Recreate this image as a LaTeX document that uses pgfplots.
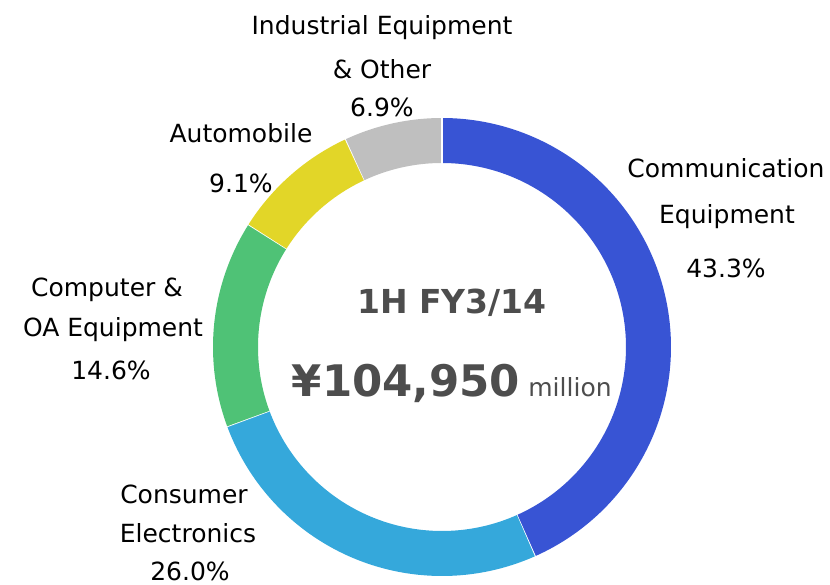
\documentclass[border=0pt]{standalone}
\usepackage{fontspec}
\setmainfont{DejaVu Sans}
\usepackage{pgfplots}
\usepackage{pgfplotstable}
\pgfplotsset{compat=1.18}

\definecolor{commblue}{HTML}{3854D4}
\definecolor{consblue}{HTML}{35A8DB}
\definecolor{compgreen}{HTML}{4FC276}
\definecolor{autoyellow}{HTML}{E2D628}
\definecolor{indgray}{HTML}{BFBFBF}
\definecolor{centertext}{HTML}{4D4D4D}

% share of sales, clockwise from 12 o'clock
\pgfplotstableread{
share color
43.3  commblue
26.0  consblue
14.6  compgreen
9.1   autoyellow
6.9   indgray
}\sharetable

\newcommand{\lbl}{\fontsize{25}{25}\selectfont}

\begin{document}
\begin{tikzpicture}
\begin{axis}[
  x=1pt, y=1pt,
  xmin=0, xmax=830, ymin=0, ymax=585,
  hide axis, clip=false,
]
\path (axis cs:0,0) rectangle (axis cs:830,585);

% total of the shares
\def\total{0}
\pgfplotsforeachungrouped \i in {0,...,4}{%
  \pgfplotstablegetelem{\i}{share}\of\sharetable
  \pgfmathsetmacro\total{\total+\pgfplotsretval}%
}
% ring segments (centre 442,238; radii 184..229)
\def\start{90}
\pgfplotsforeachungrouped \i in {0,...,4}{%
  \pgfplotstablegetelem{\i}{share}\of\sharetable
  \pgfmathsetmacro\stop{\start-360*\pgfplotsretval/\total}%
  \pgfplotstablegetelem{\i}{color}\of\sharetable
  \edef\cmd{\noexpand\addplot[draw=\pgfplotsretval, line width=45pt,
      domain=\start:\stop, samples=120]
      ({442+206.5*cos(x)},{238+206.5*sin(x)});}%
  \cmd
  \edef\cmd{\noexpand\addplot[draw=white, line width=1.6pt,
      domain=183:230, samples=2]
      ({442+x*cos(\stop)},{238+x*sin(\stop)});}%
  \cmd
  \let\start\stop
}

% labels
\node[font=\lbl] at (axis cs:382,557) {Industrial Equipment};
\node[font=\lbl] at (axis cs:382,516) {\& Other};
\node[font=\lbl] at (axis cs:382,478) {6.9\%};
\node[font=\lbl] at (axis cs:241,452) {Automobile};
\node[font=\lbl] at (axis cs:241,402) {9.1\%};
\node[font=\lbl] at (axis cs:107,295) {Computer \&};
\node[font=\lbl] at (axis cs:113,255) {OA Equipment};
\node[font=\lbl] at (axis cs:111,215) {14.6\%};
\node[font=\lbl] at (axis cs:184,91) {Consumer};
\node[font=\lbl] at (axis cs:188,52) {Electronics};
\node[font=\lbl] at (axis cs:190,14) {26.0\%};
\node[font=\lbl] at (axis cs:726,417) {Communication};
\node[font=\lbl] at (axis cs:727,368) {Equipment};
\node[font=\lbl] at (axis cs:726,317) {43.3\%};

% centre text
\node[font=\fontsize{33}{33}\selectfont\bfseries, text=centertext] at (axis cs:452,282) {1H FY3/14};
\node[font=\fontsize{43.5}{43.5}\selectfont\bfseries, text=centertext] at (axis cs:406,202) {¥104,950};
\node[font=\fontsize{25}{25}\selectfont, text=centertext] at (axis cs:570,198) {million};
\end{axis}
\end{tikzpicture}
\end{document}
